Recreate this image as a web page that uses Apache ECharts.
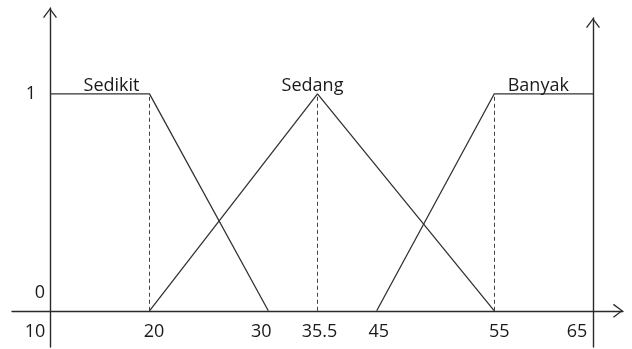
<!DOCTYPE html>
<html>
<head>
<meta charset="utf-8">
<script src="https://cdn.jsdelivr.net/npm/echarts@6/dist/echarts.min.js"></script>
<style>html,body{margin:0;padding:0;background:#fff}#c{width:632px;height:349px}</style>
</head>
<body>
<div id="c"></div>
<script>
// ---- data ----
const tickLabels = ['10', '20', '30', '35.5', '45', '55', '65'];
const tickValues = [10, 20, 30, 35.5, 45, 55, 65];
const yTickValues = [0, 1];
const yTickLabels = ['0', '1'];
const seriesNames = ['Sedikit', 'Sedang', 'Banyak'];
const sedikitX = [10, 20, 30];
const sedikitY = [1, 1, 0];
const sedangX = [20, 35.5, 55];
const sedangY = [0, 1, 0];
const banyakX = [45, 55, 65];
const banyakY = [0, 1, 1];
const dashedAt = [20, 35.5, 55];
const nameAnchorX = [20, 35.5, 55];

// ---- layout (schematic, non-uniform axis spacing as drawn in the reference) ----
const tickPos = [0, 99.5, 218.3, 267.5, 326.7, 444.3, 543];
const labelShift = [-15, 4.5, -7, 2, 2, 5, -16];
const nameOffset = [-38, -5, 44];

function warp(v) {
  for (let i = 0; i < tickValues.length - 1; i++) {
    if (v <= tickValues[i + 1]) {
      const t = (v - tickValues[i]) / (tickValues[i + 1] - tickValues[i]);
      return tickPos[i] + t * (tickPos[i + 1] - tickPos[i]);
    }
  }
  return tickPos[tickPos.length - 1];
}
function pts(xs, ys) { return xs.map((x, i) => [warp(x), ys[i]]); }

const FONT = 'Open Sans';
const TXT = '#1a1a1a';
const AX = '#2a2a2a';
const chevron = 'path://M0,9.2 L7,0 L14,9.2 L12.9,10 L7,2 L1.1,10 Z';

const xRich = {};
tickLabels.forEach((l, i) => {
  const d = labelShift[i];
  xRich['s' + i] = {
    fontFamily: FONT, fontSize: 18, color: TXT,
    padding: d >= 0 ? [0, 0, 0, 2 * d] : [0, -2 * d, 0, 0]
  };
});

const lineStyle = { color: '#333', width: 1.3 };
const chart = echarts.init(document.getElementById('c'));
const curves = [pts(sedikitX, sedikitY), pts(sedangX, sedangY), pts(banyakX, banyakY)];

const series = curves.map((data, i) => ({
  name: seriesNames[i],
  type: 'line',
  data: data,
  symbol: 'none',
  lineStyle: lineStyle,
  animation: false,
  markPoint: {
    symbol: 'circle', symbolSize: 0, silent: true, animation: false,
    data: [{
      coord: [warp(nameAnchorX[i]), 1],
      label: {
        show: true, position: 'top', distance: -1, offset: [nameOffset[i], 0],
        formatter: seriesNames[i], fontFamily: FONT, fontSize: 18, color: TXT
      }
    }]
  }
}));
series.push({
  name: 'guides',
  type: 'line',
  data: [],
  markLine: {
    silent: true, animation: false, symbol: ['none', 'none'],
    label: { show: false },
    lineStyle: { type: [4, 3], color: '#444', width: 1 },
    data: dashedAt.map(x => [{ coord: [warp(x), 0] }, { coord: [warp(x), 1] }])
  }
});

chart.setOption({
  animation: false,
  backgroundColor: '#fff',
  grid: [
    { left: 12, right: 9, top: 8, bottom: 2, containLabel: false, outerBoundsMode: 'none' },
    { left: 12, right: 39, top: 18, bottom: 2, containLabel: false, outerBoundsMode: 'none' }
  ],
  xAxis: [{
    type: 'value', gridIndex: 0, min: -38, max: 573,
    splitLine: { show: false },
    axisTick: { show: false },
    axisLine: { onZero: true, lineStyle: { color: AX, width: 1.4 },
      symbol: ['none', chevron], symbolSize: [14, 10], symbolOffset: [0, -5] },
    axisLabel: {
      customValues: tickPos, margin: -24, hideOverlap: false,
      formatter: function (v) {
        let idx = 0, best = 1e9;
        tickPos.forEach((p, i) => { if (Math.abs(p - v) < best) { best = Math.abs(p - v); idx = i; } });
        return '{s' + idx + '|' + tickLabels[idx] + '}';
      },
      rich: xRich
    }
  }, {
    type: 'value', gridIndex: 1, min: 0, max: 1, show: false
  }],
  yAxis: [{
    type: 'value', gridIndex: 0, min: -0.1669, max: 1.3955,
    splitLine: { show: false },
    axisTick: { show: false },
    axisLine: { onZero: true, lineStyle: { color: AX, width: 1.4 },
      symbol: ['none', chevron], symbolSize: [14, 10], symbolOffset: [0, -5] },
    axisLabel: {
      customValues: yTickValues, margin: -33,
      formatter: function (v) {
        const i = yTickValues.indexOf(v);
        return i === 0 ? '{z|' + yTickLabels[i] + '}' : '{o|' + yTickLabels[i] + '}';
      },
      rich: {
        z: { fontFamily: FONT, fontSize: 18, color: TXT, padding: [0, 0, 36, 0] },
        o: { fontFamily: FONT, fontSize: 18, color: TXT, padding: [0, 9, 0, 0] }
      }
    }
  }, {
    type: 'value', gridIndex: 1, position: 'right', min: 0, max: 1,
    splitLine: { show: false }, axisTick: { show: false }, axisLabel: { show: false },
    axisLine: { show: true, onZero: false, lineStyle: { color: AX, width: 1.4 },
      symbol: ['none', chevron], symbolSize: [14, 10], symbolOffset: [0, -5] }
  }],
  series: series
});
</script>
</body>
</html>
